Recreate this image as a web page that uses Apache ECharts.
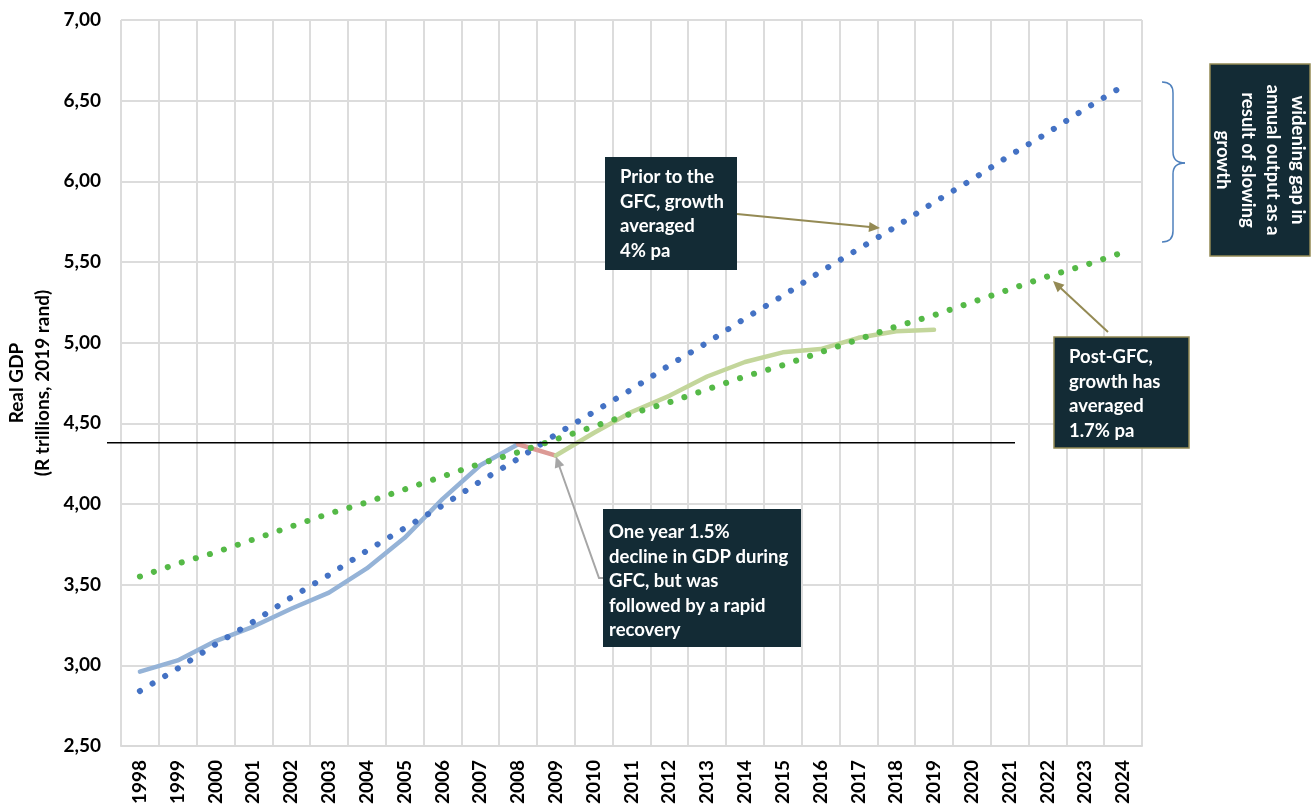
<!DOCTYPE html>
<html>
<head>
<meta charset="utf-8">
<script src="https://cdn.jsdelivr.net/npm/echarts@6/dist/echarts.min.js"></script>
<style>
  html, body { margin: 0; padding: 0; background: #ffffff; }
  #chart { width: 1314px; height: 807px; }
</style>
</head>
<body>
<div id="chart"></div>
<script>
// Real GDP, R trillions (2019 rand)
const years = ['1998','1999','2000','2001','2002','2003','2004','2005','2006','2007','2008','2009','2010',
  '2011','2012','2013','2014','2015','2016','2017','2018','2019','2020','2021','2022','2023','2024'];

// Actual GDP before the crisis
const actualPreGFC = [2.96, 3.03, 3.15, 3.24, 3.35, 3.45, 3.60, 3.79, 4.03, 4.24, 4.37,
  null, null, null, null, null, null, null, null, null, null, null, null, null, null, null, null];

// The one-year decline
const gfcDecline = [null, null, null, null, null, null, null, null, null, null, 4.37, 4.30,
  null, null, null, null, null, null, null, null, null, null, null, null, null, null, null];

// Recovery and slower growth afterwards
const postGFC = [null, null, null, null, null, null, null, null, null, null, null,
  4.30, 4.44, 4.57, 4.67, 4.79, 4.88, 4.94, 4.96, 5.03, 5.07, 5.08, null, null, null, null, null];

// Trend at pre-crisis growth
const trendPreGFC = [2.84, 2.98, 3.13, 3.27, 3.42, 3.56, 3.71, 3.85, 3.99, 4.14, 4.28, 4.43, 4.57,
  4.71, 4.86, 5.00, 5.15, 5.29, 5.44, 5.58, 5.72, 5.87, 6.01, 6.16, 6.30, 6.45, 6.59];

// Trend at post-crisis growth
const trendPostGFC = [3.55, 3.63, 3.70, 3.78, 3.86, 3.94, 4.01, 4.09, 4.17, 4.25, 4.32, 4.40, 4.48,
  4.56, 4.63, 4.71, 4.79, 4.86, 4.94, 5.02, 5.10, 5.17, 5.25, 5.33, 5.41, 5.48, 5.56];

// Level of the 2008 peak
const peakLevel = 4.38;

const FONT = 'Lato';
const BOX = '#132b35';
const OLIVE = '#948a54';

const chart = echarts.init(document.getElementById('chart'), null, { renderer: 'canvas' });

const dotted = (color) => ({ color: color, width: 6, type: [0.1, 14.6], cap: 'round' });

chart.setOption({
  animation: false,
  backgroundColor: '#ffffff',
  grid: { left: 121, right: 172, top: 20, bottom: 61, containLabel: false },
  xAxis: {
    type: 'category',
    data: years,
    boundaryGap: true,
    axisLine: { show: true, lineStyle: { color: '#d9d9d9', width: 2 } },
    axisTick: { show: false },
    splitLine: { show: true, interval: 0, lineStyle: { color: '#dcdcdc', width: 2 } },
    axisLabel: {
      interval: 0, rotate: 90, margin: 14,
      color: '#000', fontFamily: FONT, fontWeight: 'bold', fontSize: 19
    }
  },
  yAxis: {
    type: 'value',
    min: 2.5, max: 7, interval: 0.5,
    axisLine: { show: false },
    axisTick: { show: false },
    splitLine: { show: true, lineStyle: { color: '#dcdcdc', width: 2 } },
    axisLabel: {
      margin: 20, color: '#000', fontFamily: FONT, fontWeight: 'bold', fontSize: 19,
      formatter: (v) => v.toFixed(2).replace('.', ',')
    }
  },
  series: [
    { type: 'line', data: actualPreGFC, symbol: 'none', silent: true,
      lineStyle: { color: '#95b3d7', width: 4.5, cap: 'round' } },
    { type: 'line', data: gfcDecline, symbol: 'none', silent: true,
      lineStyle: { color: '#dc9a95', width: 4.5, cap: 'round' } },
    { type: 'line', data: postGFC, symbol: 'none', silent: true,
      lineStyle: { color: '#c3d69b', width: 4.5, cap: 'round' } },
    { type: 'line', data: trendPreGFC, symbol: 'none', silent: true,
      lineStyle: dotted('#4472c4') },
    { type: 'line', data: trendPostGFC, symbol: 'none', silent: true,
      lineStyle: dotted('#55b947') }
  ]
});

// ---- annotations ----
function arrowShapes(pts, color, width) {
  const n = pts.length;
  const [x1, y1] = pts[n - 2];
  const [x2, y2] = pts[n - 1];
  const ang = Math.atan2(y2 - y1, x2 - x1);
  const len = 11, half = 5;
  const bx = x2 - len * Math.cos(ang), by = y2 - len * Math.sin(ang);
  const shaft = pts.slice(0, n - 1).concat([[bx + Math.cos(ang), by + Math.sin(ang)]]);
  return [
    { type: 'polyline', silent: true, z: 20,
      shape: { points: shaft }, style: { stroke: color, lineWidth: width, fill: null } },
    { type: 'polygon', silent: true, z: 20,
      shape: { points: [
        [x2, y2],
        [bx + half * Math.sin(ang), by - half * Math.cos(ang)],
        [bx - half * Math.sin(ang), by + half * Math.cos(ang)]
      ] },
      style: { fill: color } }
  ];
}

function box(x, y, w, h, border) {
  return { type: 'rect', silent: true, z: 30,
    shape: { x: x, y: y, width: w, height: h },
    style: { fill: BOX, stroke: border || null, lineWidth: border ? 1.5 : 0 } };
}

function label(x, y, lines) {
  return { type: 'text', silent: true, z: 31, x: x, y: y,
    style: { text: lines.join('\n'), fill: '#ffffff', font: 'bold 18.5px ' + FONT,
      lineHeight: 24.5, textAlign: 'left', textVerticalAlign: 'top' } };
}

// right-hand curly brace built from straight and curved pieces
function brace(x0, xm, xt, yTop, yMid, yBot, color) {
  const st = { stroke: color, lineWidth: 1.5, fill: null };
  const r = 11;
  const q = (x1, y1, cx, cy, x2, y2) => ({ type: 'bezierCurve', silent: true, z: 20,
    shape: { x1: x1, y1: y1, cpx1: cx, cpy1: cy, x2: x2, y2: y2 }, style: st });
  const l = (x1, y1, x2, y2) => ({ type: 'line', silent: true, z: 20,
    shape: { x1: x1, y1: y1, x2: x2, y2: y2 }, style: st });
  return [
    q(x0, yTop, xm, yTop, xm, yTop + r),
    l(xm, yTop + r, xm, yMid - r),
    q(xm, yMid - r, xm, yMid, xt, yMid),
    q(xt, yMid, xm, yMid, xm, yMid + r),
    l(xm, yMid + r, xm, yBot - r),
    q(xm, yBot - r, xm, yBot, x0, yBot)
  ];
}

const peakY = chart.convertToPixel({ yAxisIndex: 0 }, peakLevel);
const dipPt = chart.convertToPixel({ xAxisIndex: 0, yAxisIndex: 0 }, [11, gfcDecline[11]]);

const graphics = [
  // peak level reference
  { type: 'line', silent: true, z: 15,
    shape: { x1: 107, y1: peakY, x2: 1015, y2: peakY },
    style: { stroke: '#000000', lineWidth: 1.5 } },

  // pre-crisis note
  box(605, 157, 132, 113),
  label(620, 165, ['Prior to the', 'GFC, growth', 'averaged', '4% pa']),
  ...arrowShapes([[737, 214], [880, 228]], OLIVE, 2),

  // decline note
  box(603, 509, 198, 138),
  label(609, 520, ['One year 1.5%', 'decline in GDP during', 'GFC, but was', 'followed by a rapid', 'recovery']),
  ...arrowShapes([[603, 578], [599, 578], [dipPt[0], dipPt[1] + 1]], '#a6a6a6', 2),

  // post-crisis note
  box(1054, 337, 135, 111, OLIVE),
  label(1069, 345, ['Post-GFC,', 'growth has', 'averaged', '1.7% pa']),
  ...arrowShapes([[1108, 332], [1053, 281]], OLIVE, 2),

  // gap brace
  ...brace(1162, 1173, 1185, 82, 163, 242, '#4f81bd'),

  // gap note (vertical)
  box(1210, 64, 100, 192, OLIVE),
  { type: 'text', silent: true, z: 31, x: 1260, y: 160, rotation: -Math.PI / 2,
    style: { text: 'widening gap in\nannual output as a\nresult of slowing\ngrowth',
      fill: '#ffffff', font: 'bold 18.5px ' + FONT, lineHeight: 25,
      textAlign: 'center', textVerticalAlign: 'middle' } },

  // y-axis title
  { type: 'text', silent: true, z: 31, x: 30, y: 383, rotation: Math.PI / 2,
    style: { text: 'Real GDP\n(R trillions, 2019 rand)', fill: '#000000',
      font: 'bold 19px ' + FONT, lineHeight: 26,
      textAlign: 'center', textVerticalAlign: 'middle' } }
];

chart.setOption({ graphic: graphics });
</script>
</body>
</html>
